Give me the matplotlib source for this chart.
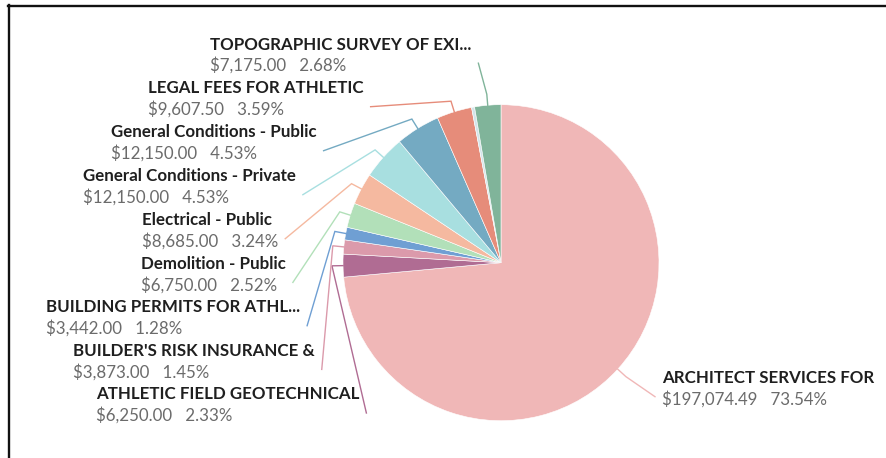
import math

import matplotlib
matplotlib.use("Agg")
import matplotlib.pyplot as plt
from matplotlib.lines import Line2D

W, H = 886, 458

# Budget line items, clockwise from 12 o'clock
names = [
    "ARCHITECT SERVICES FOR",
    "ATHLETIC FIELD GEOTECHNICAL",
    "BUILDER'S RISK INSURANCE &",
    "BUILDING PERMITS FOR ATHL...",
    "Demolition - Public",
    "Electrical - Public",
    "General Conditions - Private",
    "General Conditions - Public",
    "LEGAL FEES FOR ATHLETIC",
    "Other",
    "TOPOGRAPHIC SURVEY OF EXI...",
]
amounts = [197074.49, 6250.00, 3873.00, 3442.00, 6750.00, 8685.00,
           12150.00, 12150.00, 9607.50, 828.00, 7175.00]
percents = [73.54, 2.33, 1.45, 1.28, 2.52, 3.24, 4.53, 4.53, 3.59, 0.31, 2.68]
show_label = [True] * 9 + [False, True]

colors = ["#F0B7B7", "#B06C93", "#DB9AAB", "#6F9FD3", "#B2E0B9", "#F5B9A0",
          "#A8DFE0", "#74AAC2", "#E68C7A", "#D3E4EA", "#80B49A"]

# label anchor: left x, centre y of the name line (pixels from top)
label_x = [662, 96, 73, 46, 141, 142, 83, 111, 148, None, 210]
label_y = [378, 394.3, 350.7, 307, 263.7, 220, 176, 132, 88, None, 44.5]
line_gap = 21
font_size = 12.2

cx, cy, R = 501, H - 262.7, 158

plt.rcParams["font.family"] = ["Lato", "DejaVu Sans"]

fig = plt.figure(figsize=(W / 100, H / 100), dpi=100)
ax = fig.add_axes([0, 0, 1, 1])

wedges, _ = ax.pie(
    amounts, colors=colors, startangle=90, counterclock=False,
    center=(cx, cy), radius=R,
    wedgeprops=dict(edgecolor="white", linewidth=0.4),
)
ax.set_xlim(0, W)
ax.set_ylim(0, H)
ax.set_aspect("equal")
ax.set_axis_off()

# outer frame (top and left edges)
fig.add_artist(Line2D([8 / W, 1], [1 - 6.2 / H] * 2, color="#111111",
                      linewidth=1.7, transform=fig.transFigure))
fig.add_artist(Line2D([9.2 / W] * 2, [0, 1 - 5 / H], color="#111111",
                      linewidth=1.7, transform=fig.transFigure))

renderer = fig.canvas.get_renderer()

for i, w in enumerate(wedges):
    if not show_label[i]:
        continue
    lx, ly = label_x[i], H - label_y[i]
    t1 = ax.text(lx, ly, names[i], ha="left", va="center", fontsize=font_size,
                 fontweight="bold", color="#1F1F1F")
    t2 = ax.text(lx, ly - line_gap, f"${amounts[i]:,.2f}   {percents[i]:.2f}%",
                 ha="left", va="center", fontsize=font_size, color="#6B6B6B")

    right = max(t1.get_window_extent(renderer).x1,
                t2.get_window_extent(renderer).x1)

    # leader: wedge edge -> short radial stub -> label
    a = math.radians((w.theta1 + w.theta2) / 2)
    ex, ey = cx + R * math.cos(a), cy + R * math.sin(a)
    kx, ky = cx + 1.07 * R * math.cos(a), cy + 1.07 * R * math.sin(a)
    endx = lx - 7 if math.cos(a) > 0 else right + 7
    endy = ly - line_gap + 2.3
    ax.plot([ex, kx, endx], [ey, ky, endy], color=colors[i], linewidth=1,
            solid_joinstyle="miter")

fig.savefig("out.png", dpi=100, facecolor="white")
